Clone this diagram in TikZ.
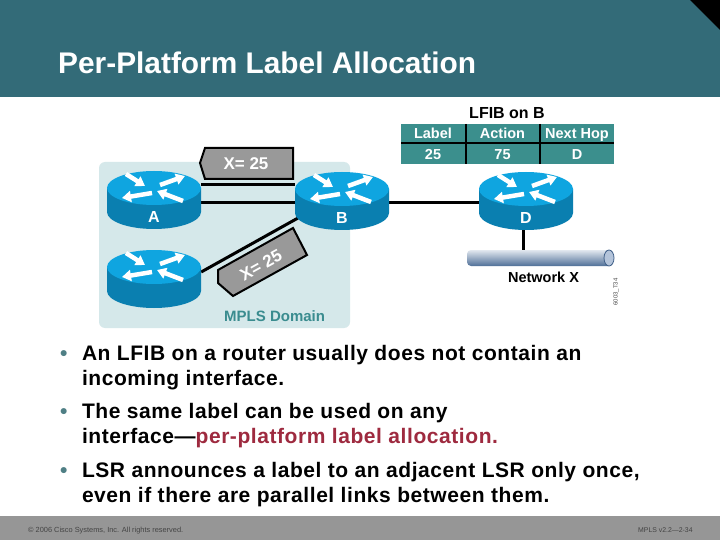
\documentclass[tikz,border=0pt]{standalone}
\usepackage{fontspec}
\setmainfont{Liberation Sans}
\newfontfamily\bodyfont[LetterSpace=2.7,BoldFont={Liberation Sans Bold}]{Liberation Sans}
\usetikzlibrary{arrows.meta,calc}
\definecolor{band}{HTML}{336B78}
\definecolor{panel}{HTML}{D5E8EA}
\definecolor{rtop}{HTML}{0FA5E0}
\definecolor{rside}{HTML}{0A7FB0}
\definecolor{tbl}{HTML}{3B8F8D}
\definecolor{dom}{HTML}{3A8C8F}
\definecolor{redtxt}{HTML}{9E2A3F}
\definecolor{bul}{HTML}{4F7F85}
\definecolor{foot}{HTML}{969696}
\definecolor{foottxt}{HTML}{444444}
\definecolor{tagfill}{HTML}{999999}
\definecolor{nettop}{HTML}{E2E8EF}
\definecolor{netmid}{HTML}{A6B9D0}
\definecolor{netbot}{HTML}{4F6F98}
\definecolor{netend}{HTML}{B4C4DA}
\definecolor{netedge}{HTML}{3F5F88}
\newcommand{\fs}[1]{\fontsize{#1}{#1}\selectfont}
\tikzset{
  link/.style={line width=3pt,black},
  rarrow/.style={white,line width=4.5pt,-{Triangle[width=11pt,length=9pt]}},
  txt/.style={inner sep=0pt,outer sep=0pt,anchor=base west,font=\bodyfont\fs{21}\bfseries,text=black},
  foottext/.style={inner sep=0pt,anchor=base west,text=foottxt},
  tagtxt/.style={inner sep=0pt,text=white,font=\fs{17}\bfseries},
  tagshape/.style={fill=tagfill,draw=black,line width=2pt,miter limit=4},
  cell/.style={inner sep=0pt,text=white,font=\fs{14.5}\bfseries,anchor=base},
  rlabel/.style={inner sep=0pt,text=white,font=\fs{16}\bfseries},
  box/.style={inner sep=0pt,minimum width=#1,minimum height=58pt},
  tline/.style={black,line width=1.5pt}
}
% \routerbody{name}{cx}{top y}{label}
\newcommand{\routerbody}[4]{%
  \begin{scope}[shift={(#2,#3)}]
    \fill[rside] (-47,17) -- (-47,41) arc[start angle=180,end angle=0,x radius=47,y radius=17] -- (47,17) -- cycle;
    \fill[rtop] (0,17) ellipse[x radius=47,y radius=17];
    \draw[rarrow] (-28,3) -- (-9,15);
    \draw[rarrow] (6,14) -- (31,5);
    \draw[rarrow] (-2,22) -- (-32,27);
    \draw[rarrow] (29,30) -- (3,20);
    \node[rlabel] at (0,46) {#4};
  \end{scope}
}
\begin{document}
\begin{tikzpicture}[x=1pt,y=-1pt]
\useasboundingbox (0,0) rectangle (720,540);
\fill[white] (0,0) rectangle (720,540);
% header and footer
\fill[band] (0,0) rectangle (720,97);
\fill[black] (690,0) -- (720,0) -- (720,30) -- cycle;
\fill[foot] (0,516) rectangle (720,540);
\node[inner sep=0pt,anchor=base west,text=white,font=\fs{29.85}\bfseries] (title) at (58,74) {Per-Platform Label Allocation};
% domain panel
\fill[panel,rounded corners=6pt] (99,162) rectangle (350,328);
\node[inner sep=0pt,text=dom,font=\fs{15}\bfseries,anchor=base west] (domain) at (224,321) {MPLS Domain};
% invisible router anchors
\node[box=94pt] (A) at (154,200) {};
\node[box=94pt] (B) at (342,201) {};
\node[box=90pt] (D) at (526,201) {};
\node[box=94pt] (C) at (154,279) {};
\node[inner sep=0pt,minimum width=147pt,minimum height=16pt] (Net) at (540.5,258) {};
% links
\draw[link] ([yshift=15pt]A.east) -- ([yshift=16pt]B.west);
\draw[link] ([yshift=-3pt]A.east) -- ([yshift=-2pt]B.west);
\draw[link] ([yshift=7pt]C.east) -- ([xshift=5pt,yshift=-16pt]B.west);
\draw[link] ([yshift=-2pt]B.east) -- ([yshift=-2pt]D.west);
\draw[link] ([xshift=-3pt]D.south) -- ([xshift=-3pt]D.south |- Net.north);
% routers
\routerbody{A}{154}{171}{A}
\routerbody{B}{342}{172}{B}
\routerbody{D}{526}{172}{D}
\routerbody{C}{154}{250}{}
% network bar
\shade[top color=nettop,middle color=netmid,bottom color=netbot,rounded corners=4pt]
  (467,250) rectangle (612,266);
\fill[netend,draw=netedge,line width=.8pt] (609,258) ellipse[x radius=5,y radius=8];
\node[inner sep=0pt,anchor=base,font=\fs{14.5}\bfseries] (netlabel) at (543.5,282) {Network X};
% tags
\draw[tagshape] (205,148) -- (293,148) -- (293,179) -- (205,179) -- (200,163) -- cycle;
\node[tagtxt] (tag1) at (246,164) {X= 25};
\draw[tagshape] (218,270) -- (293,228) -- (307,255) -- (233,296) -- (218,283) -- cycle;
\node[tagtxt,rotate=29] (tag2) at (261,265) {X= 25};
% table
\node[inner sep=0pt,anchor=base,font=\fs{16}\bfseries] (lfib) at (507,119) {LFIB on B};
\fill[tbl] (401,124) rectangle (614,164);
\node[cell] (c11) at (433,139) {Label};
\node[cell] (c12) at (502.5,139) {Action};
\node[cell] (c13) at (577,139) {Next Hop};
\node[cell] (c21) at (433,160) {25};
\node[cell] (c22) at (502.5,160) {75};
\node[cell] (c23) at (577,160) {D};
\draw[tline] (401,143) -- (614,143);
\draw[tline] (466,124) -- (466,164);
\draw[tline] (540,124) -- (540,164);
% small vertical code
\node[inner sep=0pt,rotate=90,font=\fs{6},text=black!70] (code) at (616,292) {6003\_T34};
% bullets
\node[txt,text=bul] (b1) at (60,360) {•};
\node[txt] (l1) at (82,360) {An LFIB on a router usually does not contain an};
\node[txt] (l2) at (82,385) {incoming interface.};
\node[txt,text=bul] (b2) at (60,418) {•};
\node[txt] (l3) at (82,418) {The same label can be used on any};
\node[txt] (l4) at (82,443) {interface—\textcolor{redtxt}{per-platform label allocation.}};
\node[txt,text=bul] (b3) at (60,477) {•};
\node[txt] (l5) at (82,477) {LSR announces a label to an adjacent LSR only once,};
\node[txt] (l6) at (82,502) {even if there are parallel links between them.};
% footer text
\node[foottext,font=\fs{7.4}] (f1) at (28,532) {© 2006 Cisco Systems, Inc. All rights reserved.};
\node[foottext,font=\fs{6.9}] (f2) at (638,532) {MPLS v2.2—2-34};
\end{tikzpicture}
\end{document}
